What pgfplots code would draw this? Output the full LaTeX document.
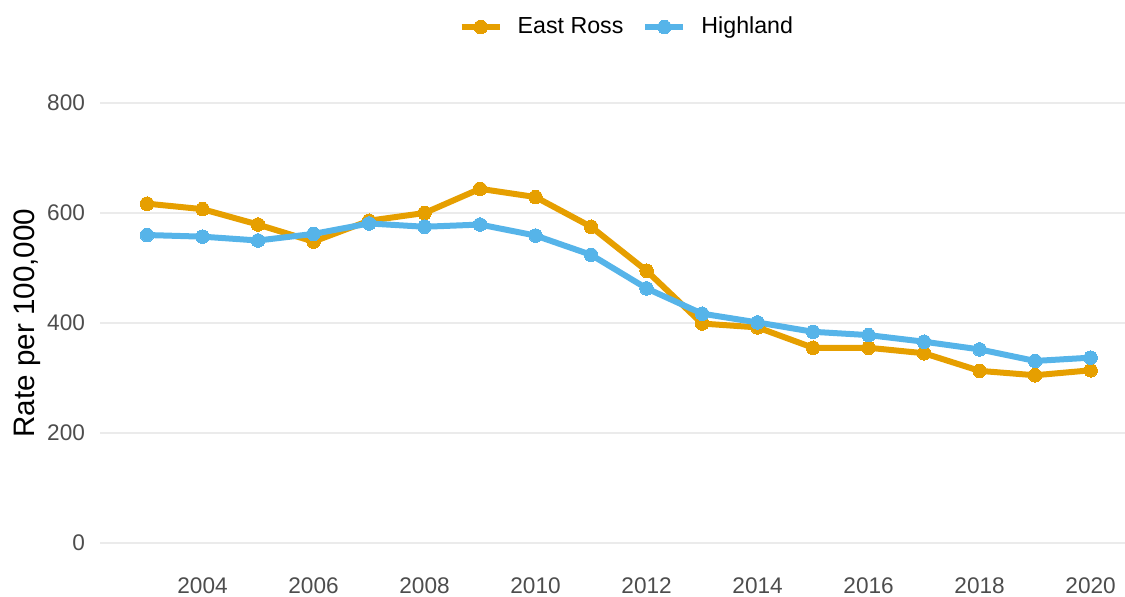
\documentclass[border=0pt]{standalone}
\usepackage{pgfplots}
\pgfplotsset{compat=1.18}
\usepackage{fontspec}
\setmainfont{Liberation Sans}
\definecolor{eastross}{HTML}{E69F00}
\definecolor{highland}{HTML}{56B4E9}
\definecolor{tickgray}{HTML}{4D4D4D}
\definecolor{gridgray}{HTML}{EBEBEB}
\begin{document}
\begin{tikzpicture}[x=1pt,y=1pt]
\path[use as bounding box] (0,0) rectangle (562.5,298);
\begin{axis}[
  at={(50pt,15.5pt)}, anchor=south west,
  scale only axis, width=512.5pt, height=242pt,
  xmin=2002.153, xmax=2020.62, ymin=-40, ymax=840,
  axis line style={draw=none},
  major tick length=0pt,
  xtick={2004,2006,...,2020},
  ytick={0,200,400,600,800},
  ymajorgrids, grid style={gridgray, line width=1pt},
  /pgf/number format/assume math mode=true,
  /pgf/number format/1000 sep={},
  tick label style={font=\fontsize{11.3}{13}\selectfont, text=tickgray},
  xticklabel style={yshift=-3pt},
  yticklabel style={xshift=-4pt},
  legend columns=2,
  legend style={draw=none, at={(0.515,1.1116)}, anchor=center,
    font=\fontsize{11.6}{14}\selectfont,
    /tikz/every odd column/.append style={column sep=5.5pt},
    /tikz/every even column/.append style={column sep=7.5pt}},
  legend image code/.code={\draw[mark repeat=2,mark phase=2,#1] plot coordinates {(0pt,0pt) (9.5pt,0pt) (19pt,0pt)};},
  every axis plot/.append style={line width=3pt, mark=*, mark size=3.4pt, mark options={solid, line width=0pt}},
]
\addplot[color=eastross] coordinates {
(2003,617) (2004,607) (2005,579) (2006,548) (2007,586) (2008,600) (2009,644) (2010,629) (2011,575) (2012,495) (2013,399) (2014,392) (2015,355) (2016,355) (2017,345) (2018,313) (2019,305) (2020,314)};
\addlegendentry{East Ross}
\addplot[color=highland] coordinates {
(2003,560) (2004,557) (2005,550) (2006,562) (2007,581) (2008,575) (2009,579) (2010,559) (2011,524) (2012,463) (2013,417) (2014,401) (2015,384) (2016,378) (2017,366) (2018,352) (2019,331) (2020,337)};
\addlegendentry{Highland}
\end{axis}
\node[rotate=90, font=\fontsize{14.8}{17}\selectfont] at (13.5,136.5) {Rate per 100,000};
\end{tikzpicture}
\end{document}
